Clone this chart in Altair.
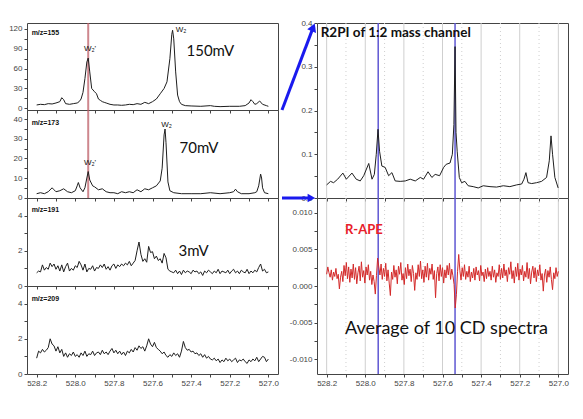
import altair as alt
import numpy as np
import pandas as pd

# ---------------- data ----------------
# shared x ticks (wavelength, reversed axis)
X_TICKS = [528.2, 528.1, 528.0, 527.9, 527.8, 527.7, 527.6, 527.5, 527.4, 527.3, 527.2, 527.1, 527.0]
X_MAJOR = [528.2, 528.0, 527.8, 527.6, 527.4, 527.2, 527.0]
X_MINOR = [528.1, 527.9, 527.7, 527.5, 527.3, 527.1]

# y ticks of each panel (labelled every second tick)
Y155_TICKS = [0, 15, 30, 45, 60, 75, 90, 105, 120]
Y173_TICKS = [0, 5, 10, 15, 20, 25, 30, 35, 40]
Y191_TICKS = [0, 1, 2, 3, 4]
Y209_TICKS = [0, 1, 2, 3, 4]
YR2PI_TICKS = [0, 0.05, 0.1, 0.15, 0.2, 0.25, 0.3, 0.35, 0.4]
YRAPE_TICKS = [-0.01, -0.0075, -0.005, -0.0025, 0, 0.0025, 0.005, 0.0075, 0.01]

# marked transitions
RED_LINE_X = [527.933]
BLUE_LINE_X = [527.933, 527.535]

# m/z = 155 (150 mV)
MZ155_X = [528.20, 528.18, 528.16, 528.14, 528.12, 528.10, 528.08, 528.07, 528.06, 528.05,
           528.03, 528.01, 527.99, 527.98, 527.97, 527.96, 527.95, 527.94, 527.933, 527.925,
           527.915, 527.90, 527.89, 527.88, 527.87, 527.86, 527.85, 527.84, 527.82, 527.80,
           527.78, 527.76, 527.74, 527.72, 527.70, 527.68, 527.66, 527.64, 527.62, 527.60,
           527.58, 527.56, 527.54, 527.525, 527.51, 527.50, 527.496, 527.49, 527.48, 527.47,
           527.46, 527.45, 527.43, 527.40, 527.35, 527.30, 527.28, 527.25, 527.20, 527.15,
           527.12, 527.10, 527.09, 527.08, 527.07, 527.06, 527.045, 527.03, 527.01, 527.00]
MZ155_Y = [5, 6, 5.5, 7, 6.5, 8, 10, 16, 13, 7,
           6, 7, 8, 10, 14, 24, 45, 70, 76, 55,
           30, 25, 22, 14, 12, 10, 9, 8, 6, 5,
           5, 4.5, 5, 6, 5.5, 7, 6, 9, 7, 10,
           14, 22, 30, 40, 75, 112, 118, 105, 55, 20,
           10, 6, 4, 3.5, 3, 4, 3, 2.5, 3, 3,
           4, 8, 13, 10, 6, 7, 11, 6, 4, 3]

# m/z = 173 (70 mV)
MZ173_X = [528.20, 528.18, 528.16, 528.14, 528.12, 528.11, 528.10, 528.08, 528.06, 528.04,
           528.02, 528.00, 527.99, 527.984, 527.975, 527.96, 527.95, 527.94, 527.933, 527.925,
           527.91, 527.90, 527.88, 527.86, 527.84, 527.82, 527.80, 527.78, 527.76, 527.74,
           527.72, 527.70, 527.68, 527.66, 527.64, 527.62, 527.60, 527.58, 527.56, 527.55,
           527.54, 527.535, 527.53, 527.52, 527.51, 527.49, 527.45, 527.40, 527.35, 527.30,
           527.25, 527.20, 527.18, 527.17, 527.16, 527.14, 527.10, 527.07, 527.06, 527.05,
           527.04, 527.035, 527.03, 527.02, 527.00]
MZ173_Y = [2, 2.5, 2, 3, 5, 4, 3, 3.5, 4.5, 3,
           2.5, 3.5, 6, 7.7, 5, 3, 5, 10, 13.3, 9,
           6, 5.5, 4, 4.5, 3, 2.5, 2.5, 2, 3, 2.5,
           3, 2.5, 4, 3, 4.5, 4, 5, 6, 8.5, 15,
           32, 35, 28, 8, 3.5, 2.5, 2, 2, 2, 2.5,
           2, 2.5, 3, 4.3, 3, 2, 2, 2.5, 3, 6,
           12, 10, 5, 2.5, 2]

# sampling grid of the noisy traces (528.20 -> 527.00, 121 samples)
NOISE_X = list(np.round(528.2 - 0.01 * np.arange(121), 2))

# m/z = 191 (3 mV)
MZ191_Y = [0.75, 0.85, 0.80, 1.20, 0.90, 1.05, 0.95, 1.30, 1.10, 1.25,
           0.95, 1.15, 0.85, 1.20, 0.80, 1.10, 1.30, 0.85, 1.00, 0.90,
           1.15, 1.05, 1.40, 1.20, 0.90, 1.25, 0.80, 1.00, 0.95, 1.15,
           0.85, 1.05, 1.00, 1.20, 1.05, 1.25, 0.95, 1.10, 0.90, 1.15,
           1.25, 1.00, 1.20, 1.10, 1.25, 1.15, 1.30, 1.20, 1.40, 1.15,
           1.30, 1.45, 2.00, 2.50, 1.80, 1.40, 1.55, 1.35, 2.25, 1.90,
           1.95, 1.55, 1.70, 1.45, 1.55, 1.30, 1.85, 1.60, 0.95, 0.85,
           0.80, 0.75, 0.90, 0.70, 0.85, 0.65, 0.90, 0.75, 0.85, 0.80,
           0.70, 0.90, 0.80, 0.85, 0.70, 0.80, 0.60, 0.85, 0.75, 0.90,
           0.80, 0.70, 0.85, 0.75, 0.95, 0.70, 0.85, 0.80, 0.75, 0.90,
           0.70, 0.85, 0.95, 0.75, 0.85, 0.70, 0.90, 0.80, 0.75, 0.95,
           0.70, 0.85, 0.75, 0.90, 0.80, 1.05, 1.25, 0.85, 0.95, 0.75,
           0.80]

# m/z = 209
MZ209_Y = [0.90, 1.30, 1.20, 1.40, 1.25, 1.35, 1.50, 2.00, 1.70, 1.60,
           1.30, 1.55, 1.20, 1.40, 1.00, 1.20, 0.95, 1.15, 1.05, 1.25,
           1.00, 1.10, 0.95, 1.20, 1.05, 1.30, 1.00, 1.15, 1.10, 1.30,
           1.05, 1.20, 1.25, 1.10, 1.35, 1.15, 1.25, 1.10, 1.30, 1.45,
           1.20, 1.35, 1.15, 1.30, 1.10, 1.25, 1.05, 1.30, 1.20, 1.40,
           1.25, 1.50, 1.35, 1.60, 1.45, 1.55, 1.30, 1.60, 2.00, 1.70,
           1.55, 1.80, 1.50, 1.40, 1.30, 1.15, 1.25, 1.05, 0.95, 1.10,
           1.00, 1.20, 1.05, 1.15, 0.95, 1.30, 1.85, 1.50, 1.35, 1.40,
           1.25, 1.30, 1.15, 1.20, 1.05, 1.15, 0.95, 1.10, 0.90, 1.00,
           0.85, 0.80, 0.90, 0.75, 0.85, 0.65, 0.80, 0.70, 0.90, 0.75,
           0.85, 0.70, 0.80, 0.90, 0.65, 0.80, 0.75, 0.85, 0.70, 0.60,
           0.80, 0.70, 0.85, 0.75, 0.95, 0.70, 0.85, 1.00, 0.95, 0.70,
           0.85]

# R2PI of 1:2 mass channel
R2PI_X = [528.200, 528.180, 528.164, 528.143, 528.116, 528.098, 528.069, 528.047, 528.026, 528.008,
          527.982, 527.965, 527.953, 527.943, 527.934, 527.926, 527.914, 527.897, 527.879, 527.862,
          527.845, 527.819, 527.793, 527.767, 527.741, 527.715, 527.698, 527.675, 527.655, 527.638,
          527.615, 527.594, 527.581, 527.561, 527.549, 527.541, 527.535, 527.530, 527.524, 527.513,
          527.501, 527.484, 527.467, 527.441, 527.415, 527.389, 527.354, 527.320, 527.285, 527.251,
          527.216, 527.190, 527.178, 527.168, 527.157, 527.138, 527.113, 527.087, 527.061, 527.047,
          527.038, 527.030, 527.018, 527.001]
R2PI_Y = [0.030, 0.038, 0.035, 0.043, 0.057, 0.043, 0.057, 0.043, 0.039, 0.051,
          0.079, 0.043, 0.054, 0.100, 0.157, 0.107, 0.073, 0.070, 0.051, 0.058,
          0.039, 0.038, 0.039, 0.043, 0.039, 0.047, 0.043, 0.060, 0.047, 0.054,
          0.051, 0.070, 0.077, 0.080, 0.100, 0.168, 0.346, 0.150, 0.107, 0.047,
          0.035, 0.038, 0.028, 0.026, 0.023, 0.028, 0.026, 0.025, 0.028, 0.026,
          0.030, 0.032, 0.043, 0.058, 0.035, 0.033, 0.035, 0.038, 0.047, 0.085,
          0.142, 0.100, 0.047, 0.023]

# R-APE, average of 10 CD spectra (values in units of 1e-3), 201 samples 528.2 -> 527.0
RAPE_X = list(np.round(528.2 - 0.006 * np.arange(201), 3))
RAPE_MILLI = [1.6, 2.6, 1.8, 1.2, 2.2, 0.8, 1.9, 1.3, 2.4, 1.0,
              1.6, -0.4, 1.2, 2.0, 0.6, 2.8, 1.4, 3.2, 1.0, 2.6,
              0.5, 2.3, 1.1, 3.0, 0.9, 2.5, 0.3, 1.8, 2.7, 0.7,
              3.3, 1.2, 2.1, 0.4, 2.6, 1.5, 2.9, 0.8, 2.0, 0.2,
              1.5, 0.6, -1.1, 1.4, 3.8, 2.6, 1.5, 3.0, 0.9, 2.4,
              1.3, 3.1, 0.7, 2.2, 0.4, -1.3, 1.9, 0.9, 2.8, 1.2,
              2.2, 0.3, 2.7, 1.6, 3.2, 0.8, 1.7, 0.2, 2.5, 1.0,
              3.0, 1.4, 2.3, 0.6, 2.8, 1.7, -0.6, 1.8, 0.9, 2.9,
              1.3, 3.4, 1.0, 2.2, 0.5, 2.7, 1.2, 3.1, 0.8, 2.4,
              1.6, 3.0, 0.9, 2.1, -1.6, 1.7, 2.6, 0.7, 2.9, 1.3,
              2.5, 0.4, 2.2, 1.1, 2.8, 1.5, 3.1, 0.9, 2.3, 1.4,
              0.2, -3.0, -1.2, 2.0, 4.3, 2.1, 0.8, 2.5, 1.3, 2.9,
              0.9, 2.0, 1.2, 2.7, 0.6, 1.9, 1.1, 2.4, 0.8, 2.6,
              1.5, 2.1, 0.7, 2.8, 1.4, 1.9, 0.6, 2.3, 1.0, 2.5,
              1.3, 2.0, 0.8, 2.7, 1.2, 2.2, 0.5, 1.8, 1.3, 2.9,
              0.9, 2.4, 1.1, 3.0, 1.4, 2.2, 0.6, 2.5, 1.6, 3.3,
              1.0, 2.1, 0.4, 2.6, 1.3, 3.1, 0.8, 2.3, 1.5, 2.8,
              0.7, 2.0, 1.2, 3.2, 1.0, 2.4, 0.3, 1.9, 2.7, 1.1,
              2.5, 0.6, 2.2, 1.4, 2.9, 0.8, 1.7, -0.7, 1.5, 2.3,
              0.5, 2.1, 1.2, 2.6, 0.9, -0.5, 1.8, 1.0, 2.5, 1.3,
              2.0]

# ---------------- styling helpers ----------------
LINE_COL = "#1e1e1e"
AX_COL = "#444444"
AX_FONT = "Liberation Sans"
TXT_FONT = "Lato"
BLUE = "#1a1aee"

W = 251
xscale = alt.Scale(domain=[526.95, 528.25], reverse=True, nice=False, zero=False)


def x_axis(show_labels):
    kw = dict(values=X_TICKS, tickCount=40, tickSize=3, domain=False, grid=False, title=None,
              tickColor=AX_COL, labelColor=AX_COL, labelFont=AX_FONT, labelFontSize=8,
              labelPadding=2, labelFlush=False, labelOverlap=False)
    if show_labels:
        kw["labelExpr"] = "round(datum.value*10) % 2 == 0 ? format(datum.value, '.1f') : ''"
    else:
        kw["labels"] = False
    return alt.Axis(**kw)


def y_axis(values, label_expr):
    return alt.Axis(values=values, tickCount=40, labelExpr=label_expr, tickSize=3,
                    domain=False, grid=False, title=None, tickColor=AX_COL,
                    labelColor=AX_COL, labelFont=AX_FONT, labelFontSize=8, labelPadding=2,
                    labelOverlap=False, labelFlush=False)


def text_layer(rows, size, bold, color="#111111", font=TXT_FONT, opacity=1):
    df = pd.DataFrame(rows, columns=["x", "y", "t"])
    return alt.Chart(df).mark_text(align="left", baseline="middle", fontSize=size,
                                   fontWeight="bold" if bold else "normal", color=color,
                                   font=font, opacity=opacity, clip=False).encode(
        x="x:Q", y="y:Q", text="t:N")


def left_panel(xs, ys, ydom, yvals, lexpr, h, show_xlabels, texts, red_line):
    df = pd.DataFrame({"x": xs, "y": ys})
    line = alt.Chart(df).mark_line(color=LINE_COL, strokeWidth=1).encode(
        x=alt.X("x:Q", scale=xscale, axis=x_axis(show_xlabels)),
        y=alt.Y("y:Q", scale=alt.Scale(domain=ydom, nice=False, zero=False),
                axis=y_axis(yvals, lexpr)),
    )
    layers = []
    if red_line:
        layers.append(alt.Chart(pd.DataFrame({"x": RED_LINE_X})).mark_rule(
            color="#bd5f68", strokeWidth=2, opacity=0.75).encode(x="x:Q"))
    layers.append(line)
    layers.extend(texts)
    return alt.layer(*layers).properties(width=W, height=h)


mz_font = dict(size=7, bold=True, font=AX_FONT)

p1 = left_panel(MZ155_X, MZ155_Y, [-2.6, 129], Y155_TICKS,
                "datum.value % 30 == 0 ? format(datum.value, 'd') : ''", 87, False,
                [text_layer([(528.226, 113.5, "m/z=155")], **mz_font),
                 text_layer([(527.955, 90, "W\u2082'")], 8, False, font=AX_FONT),
                 text_layer([(527.48, 118, "W\u2082")], 8, False, font=AX_FONT),
                 text_layer([(527.424, 87, "150mV")], 15, False),
                 # invisible spacer so both columns share the same top edge
                 text_layer([(528.25, 129, "0")], 8, False, font=AX_FONT, opacity=0)], True)

p2 = left_panel(MZ173_X, MZ173_Y, [-0.2, 44.7], Y173_TICKS,
                "datum.value % 10 == 0 ? format(datum.value, 'd') : ''", 88, False,
                [text_layer([(528.226, 38.2, "m/z=173")], **mz_font),
                 text_layer([(527.955, 17.5, "W\u2082'")], 8, False, font=AX_FONT),
                 text_layer([(527.555, 37, "W\u2082")], 8, False, font=AX_FONT),
                 text_layer([(527.46, 25.5, "70mV")], 15, False)], True)

p3 = left_panel(NOISE_X, MZ191_Y, [0, 5], Y191_TICKS,
                "datum.value % 2 == 0 ? format(datum.value, 'd') : ''", 88, False,
                [text_layer([(528.226, 4.3, "m/z=191")], **mz_font),
                 text_layer([(527.465, 2.0, "3mV")], 15, False)], False)

p4 = left_panel(NOISE_X, MZ209_Y, [0, 5], Y209_TICKS,
                "datum.value % 2 == 0 ? format(datum.value, 'd') : ''", 88, True,
                [text_layer([(528.226, 4.25, "m/z=209")], **mz_font)], False)


def grid_layers():
    major = alt.Chart(pd.DataFrame({"x": X_MAJOR})).mark_rule(
        color="#cfcfcf", strokeWidth=1).encode(x="x:Q")
    minor = alt.Chart(pd.DataFrame({"x": X_MINOR})).mark_rule(
        color="#cfcfcf", strokeWidth=1, strokeDash=[1, 3]).encode(x="x:Q")
    blue = alt.Chart(pd.DataFrame({"x": BLUE_LINE_X})).mark_rule(
        color="#5f57d2", strokeWidth=1.5).encode(x="x:Q")
    return [major, minor, blue]


# right top: R2PI
r1_line = alt.Chart(pd.DataFrame({"x": R2PI_X, "y": R2PI_Y})).mark_line(
    color=LINE_COL, strokeWidth=1).encode(
    x=alt.X("x:Q", scale=xscale, axis=x_axis(False)),
    y=alt.Y("y:Q", scale=alt.Scale(domain=[0, 0.4], nice=False, zero=False),
            axis=y_axis(YR2PI_TICKS,
                        "round(datum.value*100) % 10 == 0 ? format(datum.value, '.1f') : ''")),
)
# connector arrows from the left column (start just at the left frames' right edge)
arrow_lines = alt.Chart(pd.DataFrame({
    "x": [528.4313, 528.4313], "y": [0.2011, 0.0],
    "x2": [528.2697, 528.29], "y2": [0.390, 0.0]})).mark_rule(
    color=BLUE, strokeWidth=3, clip=False).encode(x="x:Q", y="y:Q", x2="x2:Q", y2="y2:Q")
arrow_head1 = alt.Chart(pd.DataFrame({"x": [528.2697], "y": [0.390]})).mark_point(
    shape="triangle-up", angle=22.5, filled=True, size=90, color=BLUE, opacity=1,
    clip=False).encode(x="x:Q", y="y:Q")
arrow_head2 = alt.Chart(pd.DataFrame({"x": [528.279], "y": [0.0]})).mark_point(
    shape="triangle-right", filled=True, size=75, color=BLUE, opacity=1,
    clip=False).encode(x="x:Q", y="y:Q")
r1 = alt.layer(*grid_layers(), r1_line,
               text_layer([(528.231, 0.378, "R2PI of 1:2 mass channel")], 13.5, True),
               arrow_lines, arrow_head1, arrow_head2).properties(width=W, height=175)

# right bottom: R-APE
r2_line = alt.Chart(pd.DataFrame({"x": RAPE_X, "y": [v / 1000 for v in RAPE_MILLI]})).mark_line(
    color="#d42a2a", strokeWidth=1).encode(
    x=alt.X("x:Q", scale=xscale, axis=x_axis(True)),
    y=alt.Y("y:Q", scale=alt.Scale(domain=[-0.012, 0.012], nice=False, zero=False),
            axis=y_axis(YRAPE_TICKS,
                        "round(datum.value*10000) % 50 == 0 ? (datum.value < 0 ? '-' + format(-datum.value, '.3f') : format(datum.value, '.3f')) : ''")),
)
r2 = alt.layer(*grid_layers(), r2_line,
               text_layer([(528.105, 0.0076, "R-APE")], 13, True, color="#e8202a"),
               text_layer([(528.105, -0.0059, "Average of 10 CD spectra")], 18, False)
               ).properties(width=W, height=176)

left = alt.vconcat(p1, p2, p3, p4, spacing=0, bounds="flush")
right = alt.vconcat(r1, r2, spacing=0, bounds="flush")

chart = alt.hconcat(left, right, spacing=0).properties(
    padding={"left": 0, "top": 10, "right": 5, "bottom": 5}
).configure_view(stroke=AX_COL, strokeWidth=1).configure_axis(labelOverlap=False)

chart.save("out.html", embed_options={"renderer": "svg", "actions": False})
